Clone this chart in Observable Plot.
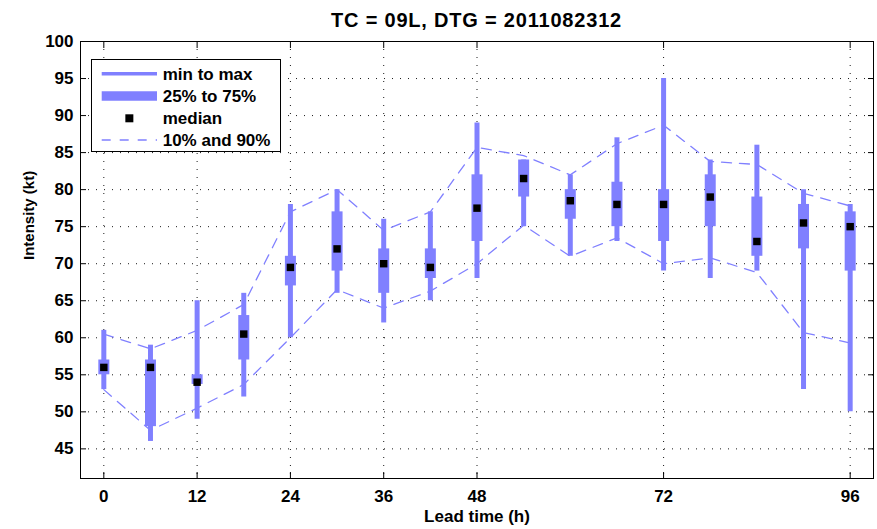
<!DOCTYPE html>
<html>
<head>
<meta charset="utf-8">
<script src="https://cdn.jsdelivr.net/npm/d3@7"></script>
<script src="https://cdn.jsdelivr.net/npm/@observablehq/plot@0.6"></script>
<style>
  body { margin: 0; background: #fff; font-family: "Liberation Sans", Arial, sans-serif; }
  #wrap { position: relative; width: 877px; height: 529px; overflow: hidden; }
  #title { height: 20px; padding: 10px 4px 0 80px; line-height: 20px; font-size: 20px; font-weight: bold; text-align: center; letter-spacing: 0.8px; color: #000; }
  #legend { position: absolute; left: 91px; top: 59px; width: 190px; height: 93px; border: 1px solid #000; background: #fff; box-sizing: border-box; }
  #legend svg { display: block; }
</style>
</head>
<body>
<div id="wrap">
  <div id="title">TC = 09L, DTG = 2011082312</div>
  <div id="chart"></div>
  <div id="legend"></div>
</div>
<script>
// ---- data ----
const leadTimes = [0, 6, 12, 18, 24, 30, 36, 42, 48, 54, 60, 66, 72, 78, 84, 90, 96];
const minVals   = [53, 46, 49, 52, 60, 66, 62, 65, 68, 75, 71, 73, 69, 68, 69, 53, 50];
const q25Vals   = [55, 48, 53.7, 57, 67, 69, 66, 68, 73, 79, 76, 75, 73, 75, 71, 72, 69];
const medVals   = [56, 56, 54, 60.5, 69.5, 72, 70, 69.5, 77.5, 81.5, 78.5, 78, 78, 79, 73, 75.5, 75];
const q75Vals   = [57, 57, 55, 63, 71, 77, 72, 72, 82, 84, 80, 81, 80, 82, 79, 78, 77];
const maxVals   = [61, 59, 65, 66, 78, 80, 76, 77, 89, 84, 82, 87, 95, 84, 86, 80, 78];
const p10Vals   = [53, 47.5, 50.5, 53.7, 60, 66.5, 64, 66.3, 70, 75.2, 71, 73.5, 70, 70.8, 68.8, 60.7, 59.3];
const p90Vals   = [60.5, 58.5, 61, 64.5, 77, 80, 74.5, 77, 85.7, 84.6, 82, 86.2, 88.7, 83.8, 83.4, 79.5, 77.8];
const xTicks = [0, 12, 24, 36, 48, 72, 96];
const yTicks = [45, 50, 55, 60, 65, 70, 75, 80, 85, 90, 95, 100];
const legendLabels = ["min to max", "25% to 75%", "median", "10% and 90%"];
const titleText = "TC = 09L, DTG = 2011082312";
const xLabel = "Lead time (h)";
const yLabel = "Intensity (kt)";

const boxColor = "#8080ff";
const rows = leadTimes.map((t, i) => ({
  t, min: minVals[i], q25: q25Vals[i], med: medVals[i], q75: q75Vals[i], max: maxVals[i], p10: p10Vals[i], p90: p90Vals[i]
}));

document.getElementById("title").textContent = titleText;

const gridStyle = { stroke: "#000", strokeOpacity: 0.9, strokeDasharray: "1,7" };

const chart = Plot.plot({
  width: 877,
  height: 499,
  marginTop: 11,
  marginBottom: 51,
  marginLeft: 80,
  marginRight: 4,
  style: { fontFamily: "Liberation Sans, Arial, sans-serif", fontSize: "17px", fontWeight: "bold", color: "#000", background: "#fff" },
  x: { domain: [-3, 99] },
  y: { domain: [41, 100] },
  marks: [
    Plot.gridY(yTicks.filter(v => v < 100), gridStyle),
    Plot.gridX(xTicks, gridStyle),
    Plot.line(rows, { x: "t", y: "p90", stroke: boxColor, strokeWidth: 1.3, strokeDasharray: "10,8" }),
    Plot.line(rows, { x: "t", y: "p10", stroke: boxColor, strokeWidth: 1.3, strokeDasharray: "10,8" }),
    Plot.ruleX(rows, { x: "t", y1: "min", y2: "max", stroke: boxColor, strokeWidth: 5 }),
    Plot.ruleX(rows, { x: "t", y1: "q25", y2: "q75", stroke: boxColor, strokeWidth: 11 }),
    Plot.dot(rows, { x: "t", y: "med", symbol: "square", r: 4.2, fill: "#000", stroke: "none" }),
    Plot.frame({ stroke: "#000", strokeWidth: 1 }),
    Plot.axisY(yTicks, { anchor: "left", tickSize: -6, tickPadding: 13, label: null, stroke: "#000" }),
    Plot.axisY(yTicks, { anchor: "right", tickSize: -6, tickFormat: () => "", label: null, stroke: "#000" }),
    Plot.axisX(xTicks, { anchor: "bottom", tickSize: -6, tickPadding: 17.4, label: null, stroke: "#000" }),
    Plot.axisX(xTicks, { anchor: "top", tickSize: -6, tickFormat: () => "", label: null, stroke: "#000" }),
    Plot.text([xLabel], { text: d => d, frameAnchor: "bottom", dy: 43, lineAnchor: "bottom", fontSize: 17, fontWeight: "bold", fill: "#000" }),
    Plot.text([yLabel], { text: d => d, frameAnchor: "left", rotate: -90, dx: -47, lineAnchor: "bottom", fontSize: 15, fontWeight: "bold", fill: "#000" })
  ]
});
document.getElementById("chart").appendChild(chart);

// ---- legend ----
const lw = 188, lh = 91;
const leg = d3.select("#legend").append("svg").attr("width", lw).attr("height", lh);
const rowY = [13.7, 36, 58.3, 80];
const sx0 = 9.7, sx1 = 65, tx = 70.7;
leg.append("line").attr("x1", sx0).attr("x2", sx1).attr("y1", rowY[0]).attr("y2", rowY[0])
  .attr("stroke", boxColor).attr("stroke-width", 3.5);
leg.append("line").attr("x1", sx0).attr("x2", sx1).attr("y1", rowY[1]).attr("y2", rowY[1])
  .attr("stroke", boxColor).attr("stroke-width", 9.5);
leg.append("rect").attr("x", (sx0 + sx1) / 2 - 4).attr("y", rowY[2] - 4).attr("width", 8).attr("height", 8).attr("fill", "#000");
leg.append("line").attr("x1", sx0).attr("x2", sx1).attr("y1", rowY[3]).attr("y2", rowY[3])
  .attr("stroke", boxColor).attr("stroke-width", 1.3).attr("stroke-dasharray", "9,9");
leg.selectAll("text.lab").data(legendLabels).join("text")
  .attr("class", "lab")
  .attr("x", tx).attr("y", (d, i) => rowY[i] + 6)
  .attr("font-family", "Liberation Sans, Arial, sans-serif")
  .attr("font-size", 17).attr("font-weight", "bold").attr("fill", "#000")
  .text(d => d);
</script>
</body>
</html>
